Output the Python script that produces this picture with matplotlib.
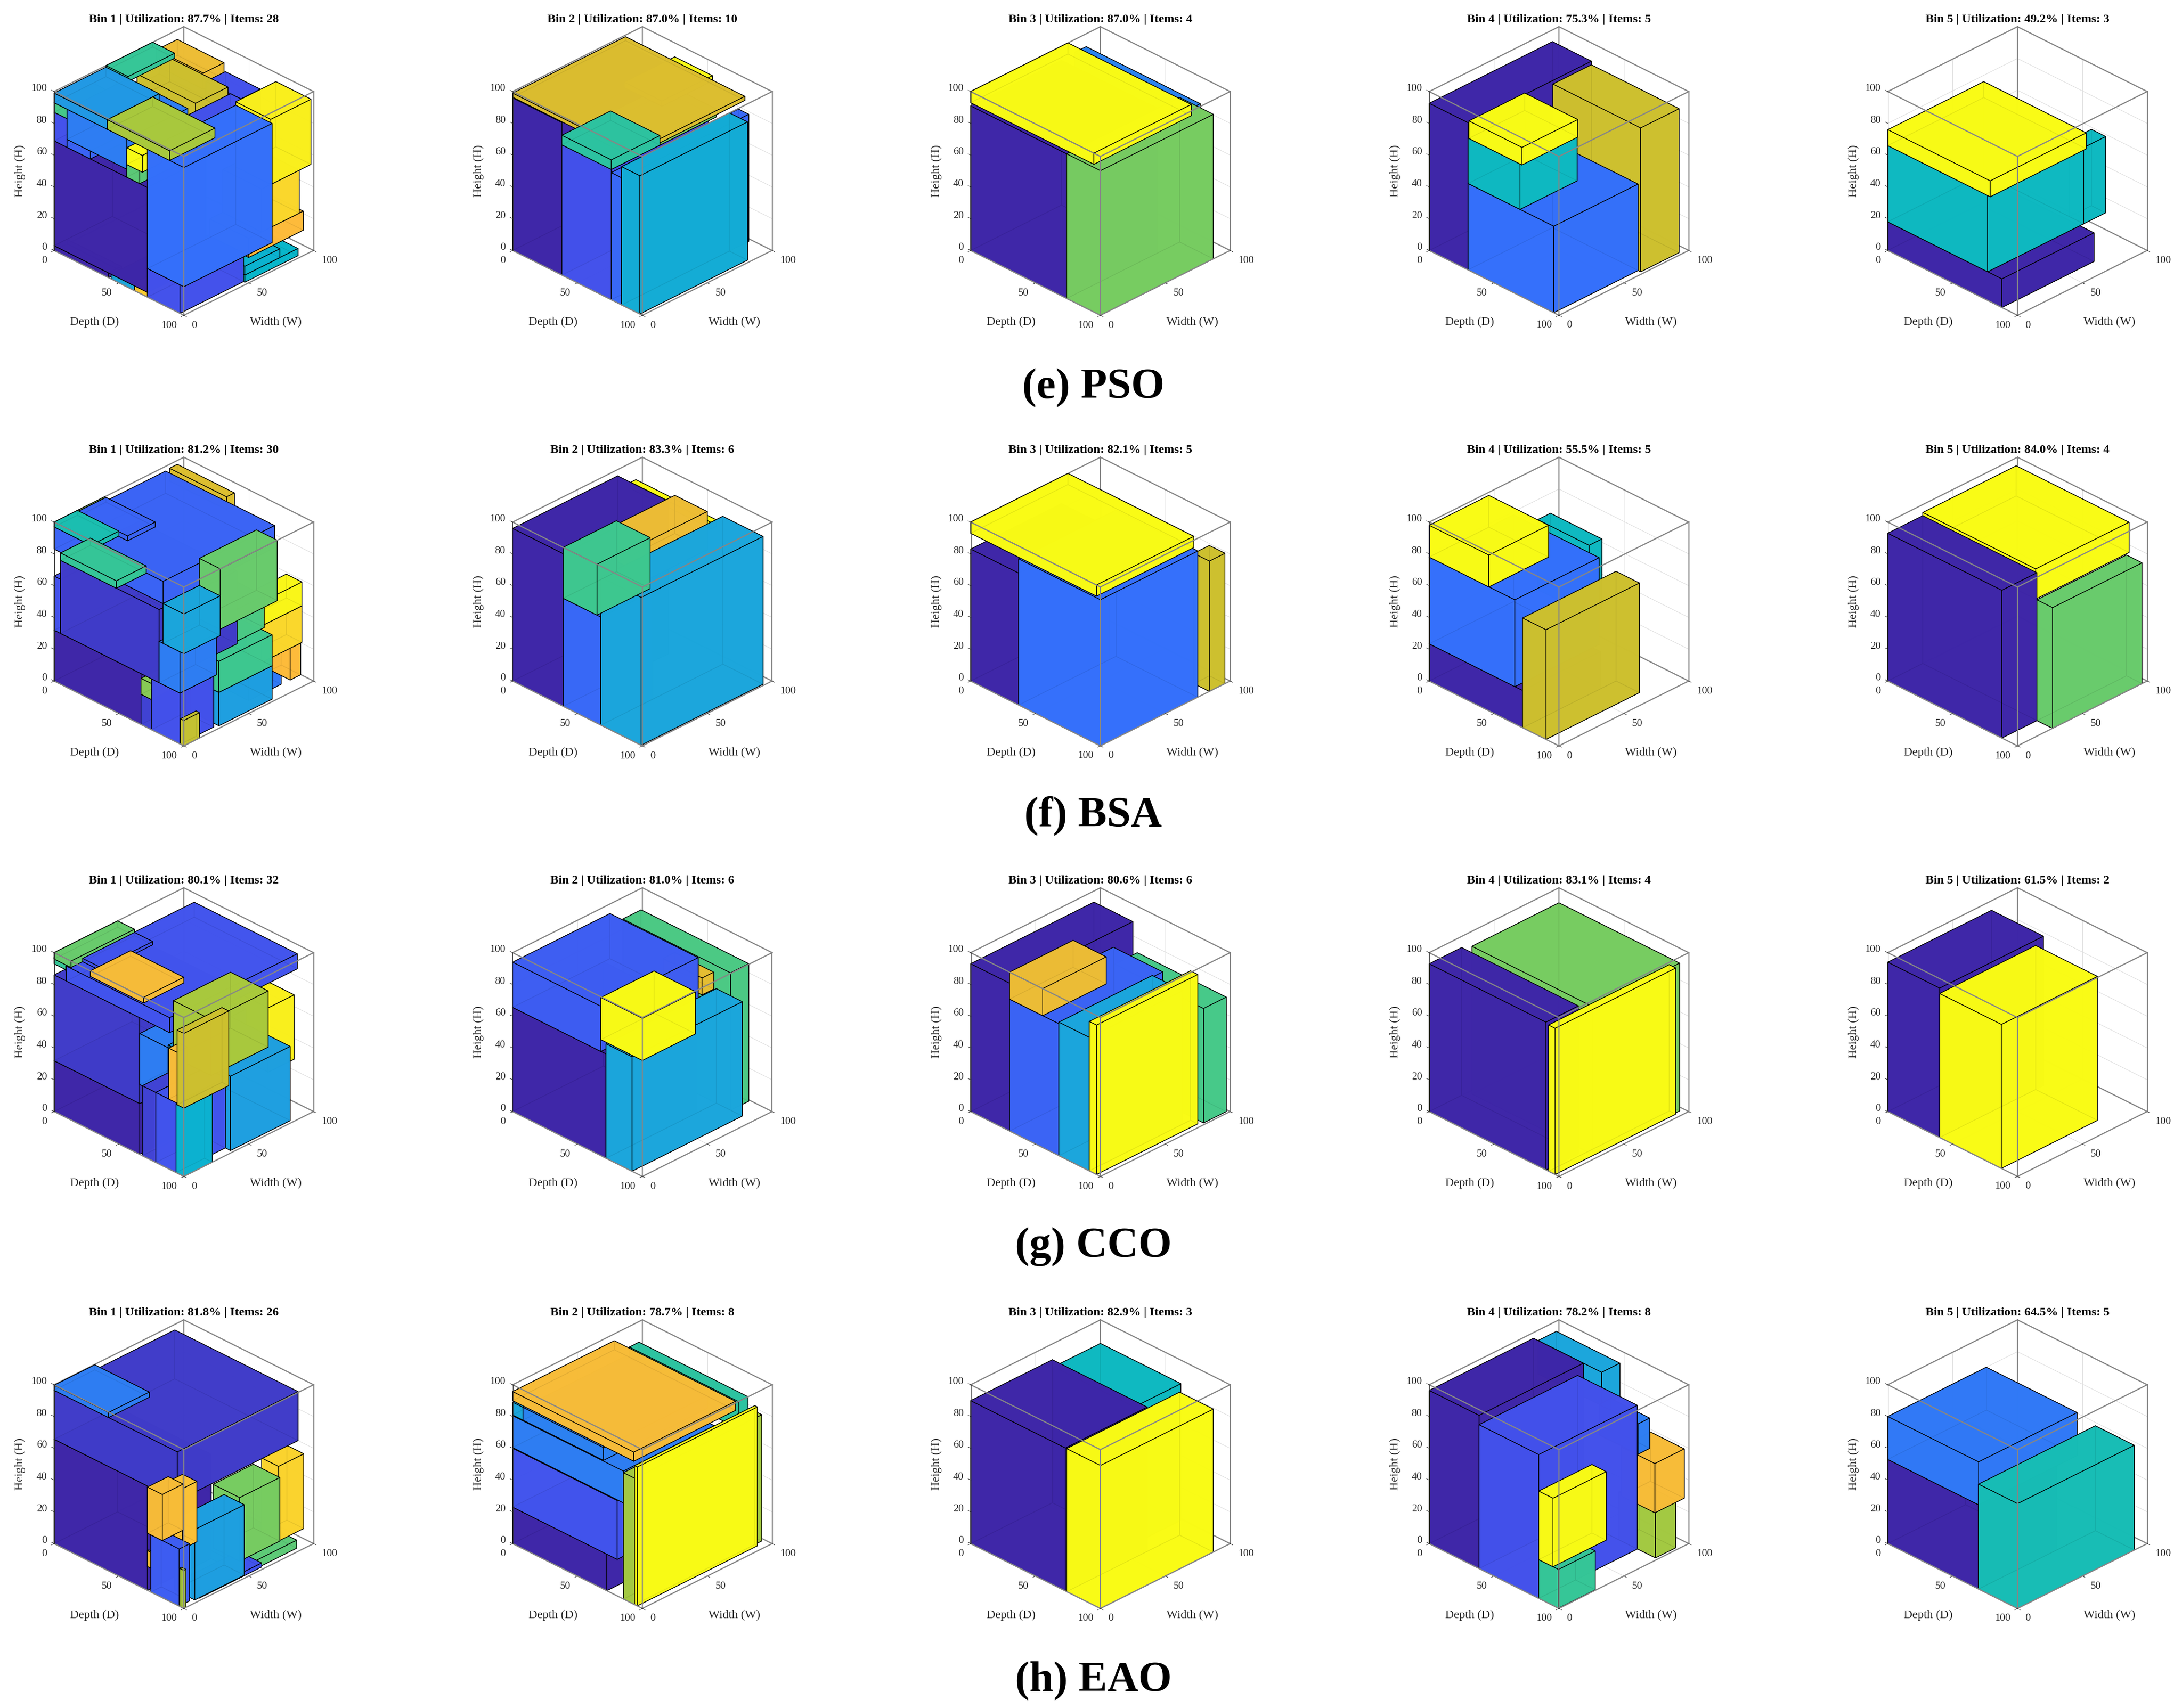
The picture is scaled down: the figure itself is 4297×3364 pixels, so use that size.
import matplotlib
matplotlib.use('Agg')
import matplotlib.pyplot as plt
from matplotlib.colors import LinearSegmentedColormap
from mpl_toolkits.mplot3d import proj3d
from mpl_toolkits.mplot3d.art3d import Poly3DCollection

plt.rcParams['font.family'] = ['Liberation Serif', 'DejaVu Serif']

FIG_W, FIG_H = 4297, 3364

METHODS = ['(e) PSO', '(f) BSA', '(g) CCO', '(h) EAO']
UTIL_PSO = [87.7, 87.0, 87.0, 75.3, 49.2]
ITEMS_PSO = [28, 10, 4, 5, 3]
UTIL_BSA = [81.2, 83.3, 82.1, 55.5, 84.0]
ITEMS_BSA = [30, 6, 5, 5, 4]
UTIL_CCO = [80.1, 81.0, 80.6, 83.1, 61.5]
ITEMS_CCO = [32, 6, 6, 4, 2]
UTIL_EAO = [81.8, 78.7, 82.9, 78.2, 64.5]
ITEMS_EAO = [26, 8, 3, 8, 5]

DEPTH_TICKS = [0, 50, 100]
WIDTH_TICKS = [0, 50, 100]
HEIGHT_TICKS = [0, 20, 40, 60, 80, 100]

# every item: depth from/to, width from/to, height from/to, colour position
# an eighth value paints the item late, the source shows those through the boxes in front
PSO_1 = [
    (0, 42, 0, 10, 0, 3, 0.0), (0, 72, 0, 45, 3, 69, 0.0), (72, 97, 0, 49, 0, 18, 0.12),
    (72, 100, 0, 68, 18, 93, 0.25), (36, 63, 81, 96, 69, 88, 0.12), (55, 70, 30, 81, 69, 88, 0.12),
    (0, 55, 30, 81, 69, 78, 0.12), (0, 36, 81, 96, 69, 84, 0.12), (10, 56, 0, 47, 74, 93, 0.3),
    (0, 41, 0, 40, 93, 99, 0.38), (0, 17, 40, 76, 97, 100, 0.62), (0, 36, 79, 95, 84, 94, 0.87),
    (10, 55, 54, 79, 78, 93, 0.83), (41, 89, 0, 35, 93, 99, 0.78), (56, 68, 0, 15, 77, 87.5, 1.0),
    (56, 66, 0, 30, 69, 77, 0.68), (0, 10, 0, 30, 69, 87, 0.12), (0, 10, 0, 30, 87, 93, 0.65),
    (10, 28, 0, 30, 69, 74, 0.2), (73, 100, 67, 98, 55, 96, 0.98), (70, 100, 60, 89, 28, 55, 0.94),
    (70, 100, 50, 92, 16, 28, 0.89), (60, 98, 49, 90, 0, 4.5, 0.5), (60, 98, 49, 76, 4.5, 10, 0.48),
    (44, 62, 0, 50, 0, 3, 0.42), (62, 72, 0, 40, 0, 5, 0.92),
]
PSO_2 = [
    (0, 38, 0, 85, 0, 96, 0.0), (38, 76, 0, 75, 0, 82, 0.12), (76, 84, 0, 98, 0, 80, 0.22),
    (84, 98, 0, 83, 0, 87, 0.45), (38, 76, 0, 37.5, 82, 88, 0.6, 1), (38, 76, 37.5, 81, 82, 87, 0.72),
    (0, 92, 0, 87, 96.5, 99, 0.85), (26, 55, 60, 99, 88.7, 92, 1.0),
]
PSO_3 = [
    (0, 74, 0, 70, 0, 91, 0.0), (5, 93, 75, 84, 85, 96, 0.32), (74, 100, 0, 87, 0, 91, 0.72),
    (0, 95, 0, 75, 93, 100, 1.0),
]
PSO_4 = [
    (0, 30, 0, 95, 0, 92.6, 0.0), (30, 96, 0, 65, 0, 54.4, 0.25), (30, 70, 0, 44, 54.4, 83, 0.52),
    (30.6, 71.5, 0, 43, 83, 94, 1.0), (30.4, 98, 65, 94.6, 0, 90.6, 0.83),
]
PSO_5 = [
    (0, 88, 0, 71, 0, 18, 0.0), (0, 77, 0, 74, 18, 66, 0.52), (66, 77, 74, 91, 18, 66, 0.52),
    (0, 79, 0, 74, 66, 76, 1.0),
]
BSA_1 = [
    (0, 67, 0, 60, 0, 32, 0.0), (5, 81, 0, 60, 32, 78, 0.06), (0, 5, 0, 60, 32, 66, 0.12),
    (0, 84, 0, 86, 83, 97, 0.2), (3, 47, 86, 92, 92, 100, 0.85), (1, 39, 17.6, 39, 97, 100, 0.2),
    (0, 2, 17, 39, 97, 100, 0.75), (0, 32, 0, 18, 97, 100, 0.56), (5, 48, 0, 23, 78, 82.6, 0.62, 1),
    (84, 100, 28, 72, 62, 100, 0.7), (84, 100, 0, 28, 58, 83, 0.42), (81, 97, 0, 28, 32, 58, 0.3),
    (70, 90, 28, 72, 41, 61, 0.66), (50, 98, 29, 70, 21, 40.5, 0.64), (50, 98, 29, 70, 0, 21, 0.4),
    (75, 97, 0, 26, 0, 32, 0.12), (67, 75, 0, 30, 0, 19, 0.08), (67, 75, 0, 14, 19, 29, 0.74),
    (97.4, 100, 0, 12, 0, 16, 0.82), (88, 100, 60, 91, 51, 66, 0.99), (88, 100, 60, 91, 28, 51, 0.94),
    (85, 100, 82, 90, 8, 28, 0.89), (60, 90, 60, 85, 0, 15.8, 0.28),
]
BSA_2 = [
    (0, 39, 0, 81, 0, 96, 0.0), (39, 68, 0, 40, 0, 68, 0.22), (39, 65, 0, 41, 68, 100, 0.64, 1),
    (68, 99, 0, 94, 0, 93, 0.42), (37, 62, 44, 88, 72, 96, 0.87), (5, 67, 86, 90, 88, 92, 1.0),
]
BSA_3 = [
    (0, 37, 0, 70, 0, 83, 0.0), (37, 100, 0, 75, 0, 92, 0.25), (0, 97, 0, 75, 93, 100, 1.0),
    (88, 100, 84, 96, 0, 82, 0.83),
]
BSA_4 = [
    (0, 72, 0, 60, 0, 23.4, 0.0), (0, 66, 0, 65, 23.4, 78, 0.25), (0, 46, 0, 46, 78, 98, 1.0),
    (13, 52.6, 70.7, 80.5, 34, 78, 0.52), (72, 90, 0, 72, 0, 69, 0.83),
]
BSA_5 = [
    (0, 88, 0, 27, 0, 93, 0.0), (0, 87, 27, 99, 76, 95, 1.0), (88, 100, 27, 96, 0, 76, 0.7),
]
CCO_1 = [
    (0, 66, 0, 70, 0, 32, 0.0), (0, 66, 0, 60, 32, 86, 0.06), (9.5, 89, 0, 98.5, 86, 95.4, 0.13),
    (0, 13, 0, 49, 96, 100, 0.7), (13, 27, 9, 49, 96, 98, 0.13), (0, 28, 0, 10, 93, 97, 0.62),
    (9, 43, 0, 4, 92, 95.4, 0.6), (28, 69, 0, 31, 96.5, 100, 0.88), (61, 90, 31, 75, 46.7, 82, 0.78, 1),
    (65, 95, 70, 90, 35, 75.5, 0.98), (50, 98, 38, 84, 0, 46.7, 0.4, 1), (94.8, 100, 0, 34.6, 43, 90, 0.83, 1),
    (88.4, 94.8, 0, 8, 44, 76, 0.88, 1), (66, 88, 0, 60, 44, 76, 0.3), (94, 100, 0, 22, 0, 43, 0.48, 1),
    (68, 78.4, 0, 50, 0, 44, 0.08, 1), (78.4, 94, 0, 38, 0, 44, 0.13, 1),
]
CCO_2 = [
    (0, 72, 0, 70, 0, 65.6, 0.0), (0, 68, 0, 75, 65.6, 94, 0.17), (72, 92, 0, 85, 0, 72, 0.42),
    (68, 100, 0, 41, 73, 99.5, 1.0), (0, 83, 85, 99, 0, 86.5, 0.66), (40, 70, 76, 85, 71, 81.6, 0.86),
]
CCO_3 = [
    (0, 30, 0, 95, 0, 93, 0.0), (30, 68, 0, 80, 0, 83, 0.2), (30, 55.5, 0, 49, 83, 100, 0.87),
    (68, 91.4, 0, 72, 0, 84, 0.42), (91.4, 97, 0, 78, 0, 94, 1.0), (30, 98.5, 81, 98.5, 0, 72, 0.65),
]
CCO_4 = [
    (0, 90, 0, 25, 0, 93, 0.0), (3, 96, 30, 97, 0, 93, 0.72), (92, 97, 0, 93, 0, 92, 1.0),
]
CCO_5 = [
    (0, 40, 0, 80, 0, 94, 0.0), (40, 87.6, 0, 74, 0, 90.6, 1.0),
]
EAO_1 = [
    (0, 72, 0, 49, 0, 65.7, 0.0), (0, 95, 0, 93, 65.7, 96.5, 0.06), (0, 42, 0, 31.4, 96.5, 99.7, 0.3),
    (72, 83.4, 0, 16, 36, 65, 0.88, 1), (72, 83, 16, 27, 24, 62, 0.9, 1), (74.6, 96.4, 0, 8, 0, 36, 0.17, 1),
    (82, 97.6, 10.8, 49, 0, 44.3, 0.4, 1), (64.6, 85, 58, 89, 0, 40, 0.72, 1), (85, 98, 75, 94.4, 11, 58, 0.93),
    (55, 97, 49, 90, 0, 5, 0.68), (80, 98, 14, 62, 0, 2.5, 0.13), (96.8, 100, 0, 1.6, 0, 24, 0.78, 1),
    (72, 74.6, 0, 1, 15, 25, 0.9, 1),
]
EAO_2 = [
    (0, 72.6, 0, 60, 0, 23, 0.0), (0, 80.6, 0, 60, 23, 60, 0.13), (0, 85.4, 0, 70, 60.5, 80.5, 0.3),
    (0, 8, 0, 8, 81, 89, 0.42), (8, 70, 0, 80, 81, 89, 0.31), (0, 93.4, 0, 78.4, 90, 95.7, 0.88),
    (0, 84, 90, 97.4, 70, 87, 0.6), (85.4, 94, 0, 98, 0, 79.5, 0.77), (94, 96, 0, 92.6, 0, 87.4, 1.0),
]
EAO_3 = [
    (0, 73, 0, 63, 0, 90, 0.0), (1, 63, 63, 99, 0, 86, 0.52), (74, 100, 0, 87, 0, 90, 1.0),
]
EAO_4 = [
    (0, 38.4, 0, 80.4, 0, 96.4, 0.0), (3, 52, 81, 95, 75, 96, 0.42), (38.4, 84.4, 0, 76, 0, 90.5, 0.12),
    (55, 85, 76, 85, 60, 79, 0.3), (74, 100, 74, 96.6, 30, 61, 0.88), (70, 98.2, 76.2, 91.8, 0, 30, 0.77),
    (84.4, 99.6, 0, 28.4, 0, 24.4, 0.62), (84.4, 95.4, 0, 41, 24.4, 67.5, 1.0),
]
EAO_5 = [
    (0, 70, 0, 60, 0, 53, 0.0), (0, 70, 0, 76, 53, 80, 0.28), (70, 100, 0, 90, 0, 66, 0.55),
]

ROWS = [
    (UTIL_PSO, ITEMS_PSO, [PSO_1, PSO_2, PSO_3, PSO_4, PSO_5]),
    (UTIL_BSA, ITEMS_BSA, [BSA_1, BSA_2, BSA_3, BSA_4, BSA_5]),
    (UTIL_CCO, ITEMS_CCO, [CCO_1, CCO_2, CCO_3, CCO_4, CCO_5]),
    (UTIL_EAO, ITEMS_EAO, [EAO_1, EAO_2, EAO_3, EAO_4, EAO_5]),
]

# pixel spots of the cube corners and captions in the page
CORNER_X = [362, 1265, 2167, 3070, 3973]
CORNER_Y = [621, 1469, 2317, 3168]
CUBE_SPAN = 511
CAPTION_X = 2153
CAPTION_Y = [763, 1607, 2455, 3310]

parula = LinearSegmentedColormap.from_list('parula', [
    (0.00, '#3e26a8'), (0.12, '#4352ec'), (0.25, '#3470fb'), (0.32, '#2b85ef'),
    (0.42, '#1ba6dc'), (0.50, '#06b6cb'), (0.56, '#1bbfb0'), (0.64, '#3ec88f'),
    (0.72, '#76cc62'), (0.78, '#a9c93c'), (0.84, '#d3bf2c'), (0.89, '#fdbb3a'),
    (0.95, '#f9dc28'), (1.00, '#f9fb15'),
])


def hides(b, a):
    # True when b has to be painted before a
    b_back = b[1] <= a[0] or b[2] >= a[3] or b[5] <= a[4]
    a_back = a[1] <= b[0] or a[2] >= b[3] or a[5] <= b[4]
    return b_back and not a_back


def back_to_front(boxes):
    left = sorted(boxes, key=lambda b: b[0] + b[1] - b[2] - b[3] + b[4] + b[5])
    order = []
    while left:
        pick = left[0]
        for a in left:
            if not any(hides(b, a) for b in left if b is not a):
                pick = a
                break
        left.remove(pick)
        order.append(pick)
    return sorted(order, key=lambda b: b[7] if len(b) > 7 else 0)


def box_faces(d0, d1, w0, w1, h0, h1):
    return [
        [(d0, w0, h0), (d1, w0, h0), (d1, w1, h0), (d0, w1, h0)],
        [(d0, w0, h1), (d1, w0, h1), (d1, w1, h1), (d0, w1, h1)],
        [(d0, w0, h0), (d1, w0, h0), (d1, w0, h1), (d0, w0, h1)],
        [(d0, w1, h0), (d1, w1, h0), (d1, w1, h1), (d0, w1, h1)],
        [(d0, w0, h0), (d0, w1, h0), (d0, w1, h1), (d0, w0, h1)],
        [(d1, w0, h0), (d1, w1, h0), (d1, w1, h1), (d1, w0, h1)],
    ]


def to_2d(ax, x, y, z):
    px, py, _ = proj3d.proj_transform(x, y, z, ax.get_proj())
    return px, py


def fit_axes(ax, corner_x, corner_y):
    size, cx, cy = 800.0, corner_x, corner_y - 300.0
    for _ in range(3):
        ax.set_position([(cx - size / 2) / FIG_W, 1 - (cy + size / 2) / FIG_H, size / FIG_W, size / FIG_H])
        ax.apply_aspect()
        left = ax.transData.transform(to_2d(ax, 0, 0, 0))
        right = ax.transData.transform(to_2d(ax, 100, 100, 0))
        low = ax.transData.transform(to_2d(ax, 100, 0, 0))
        size *= CUBE_SPAN / (right[0] - left[0])
        cx += corner_x - low[0]
        cy -= (FIG_H - corner_y) - low[1]
    ax.set_position([(cx - size / 2) / FIG_W, 1 - (cy + size / 2) / FIG_H, size / FIG_W, size / FIG_H])


def label(ax, text, point, dx, dy, **kw):
    kw.setdefault('color', '#262626')
    kw.setdefault('fontsize', 15)
    ax.annotate(text, xy=to_2d(ax, *point), xytext=(dx, dy), textcoords='offset pixels',
                annotation_clip=False, zorder=300, **kw)


def draw_panel(ax, boxes):
    ax.set_proj_type('ortho')
    ax.view_init(elev=30, azim=-45)
    ax.set_box_aspect((1, 1, 1))
    ax.set_xlim(0, 100)
    ax.set_ylim(0, 100)
    ax.set_zlim(0, 100)
    ax.set_autoscale_on(False)
    ax.set_axis_off()
    ax.patch.set_visible(False)
    ax.computed_zorder = False

    grid = dict(color='#dedede', lw=0.8, zorder=1)
    for h in HEIGHT_TICKS[1:-1]:
        ax.plot([0, 0], [0, 100], [h, h], **grid)
        ax.plot([0, 100], [100, 100], [h, h], **grid)
    ax.plot([0, 0], [50, 50], [0, 100], **grid)
    ax.plot([50, 50], [100, 100], [0, 100], **grid)
    ax.plot([50, 50], [0, 100], [0, 0], **grid)
    ax.plot([0, 100], [50, 50], [0, 0], **grid)

    back = dict(color='#868686', lw=1.7, zorder=2)
    ax.plot([0, 0], [0, 100], [100, 100], **back)
    ax.plot([0, 100], [100, 100], [100, 100], **back)
    ax.plot([0, 0], [100, 100], [0, 100], **back)
    ax.plot([0, 0], [0, 100], [0, 0], **back)
    ax.plot([0, 100], [100, 100], [0, 0], **back)

    for i, b in enumerate(back_to_front(boxes)):
        r, g, bl, _ = parula(b[6])
        poly = Poly3DCollection(box_faces(*b[:6]), facecolors=[(r, g, bl, 0.92)],
                                edgecolors='black', linewidths=1.0, zorder=10 + i)
        ax.add_collection3d(poly, autolim=False)

    front = dict(color='#868686', lw=1.7, zorder=200)
    ax.plot([0, 100], [0, 0], [100, 100], **front)
    ax.plot([100, 100], [0, 100], [100, 100], **front)
    ax.plot([100, 100], [0, 0], [0, 100], **front)
    ax.plot([100, 100], [100, 100], [0, 100], **front)
    ax.plot([0, 100], [0, 0], [0, 0], **front)
    ax.plot([100, 100], [0, 100], [0, 0], **front)
    ax.plot([0, 0], [0, 0], [0, 100], color='#262626', lw=0.8, zorder=200)

    tick = dict(color='#262626', lw=0.7, zorder=200)
    for d in DEPTH_TICKS:
        ax.plot([d, d], [0, -2], [0, 0], **tick)
    for w in WIDTH_TICKS:
        ax.plot([100, 102], [w, w], [0, 0], **tick)
    for h in HEIGHT_TICKS:
        ax.plot([0, -2], [0, 0], [h, h], **tick)


def draw_text(ax, title):
    for d in DEPTH_TICKS:
        label(ax, str(d), (d, 0, 0), -14, -20, ha='right', va='center')
    for w in WIDTH_TICKS:
        label(ax, str(w), (100, w, 0), 15.5, -20, ha='left', va='center')
    for h in HEIGHT_TICKS:
        label(ax, str(h), (0, 0, h), -14, 5.5, ha='right', va='center')
    label(ax, 'Depth (D)', (100, 0, 0), -176, -13, ha='center', va='center', fontsize=17)
    label(ax, 'Width (W)', (100, 0, 0), 181, -13, ha='center', va='center', fontsize=17)
    label(ax, 'Height (H)', (0, 0, 50), -67, 0, ha='center', va='center', rotation=90, fontsize=17)
    label(ax, title, (0, 100, 100), 0, 14, ha='center', va='center', color='black',
          fontsize=17.4, fontweight='bold')


fig = plt.figure(figsize=(FIG_W / 100, FIG_H / 100), dpi=100, facecolor='white')

for row, (utils, items, panels) in enumerate(ROWS):
    for col, boxes in enumerate(panels):
        ax = fig.add_subplot(projection='3d')
        title = f'Bin {col + 1} | Utilization: {utils[col]:.1f}% | Items: {items[col]}'
        draw_panel(ax, boxes)
        fit_axes(ax, CORNER_X[col], CORNER_Y[row])
        draw_text(ax, title)
    fig.text(CAPTION_X / FIG_W, 1 - CAPTION_Y[row] / FIG_H, METHODS[row], ha='center', va='center',
             fontsize=61, fontweight='bold', color='black')

fig.savefig('out.png', dpi=100)
